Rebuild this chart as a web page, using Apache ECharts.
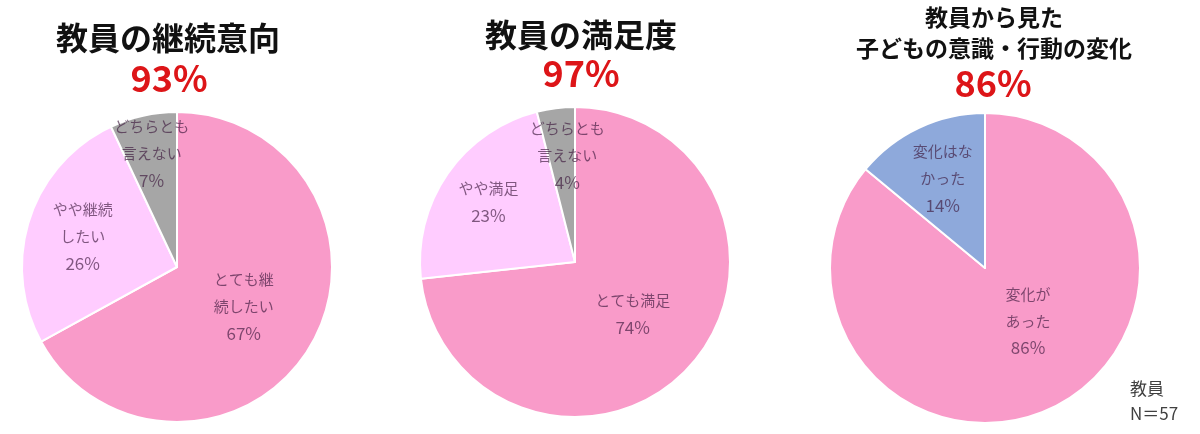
<!DOCTYPE html>
<html>
<head>
<meta charset="utf-8">
<script src="https://cdn.jsdelivr.net/npm/echarts@6/dist/echarts.min.js"></script>
<style>
  html, body { margin: 0; padding: 0; background: #fff; }
  #chart { width: 1200px; height: 434px; }
</style>
</head>
<body>
<div id="chart"></div>
<script>
// survey results (percent), slices run clockwise from 12 o'clock
const continueLabels = ['とても継\n続したい', 'やや継続\nしたい', 'どちらとも\n言えない'];
const continueValues = [67, 26, 7];
const satisfyLabels = ['とても満足', 'やや満足', 'どちらとも\n言えない'];
const satisfyValues = [74, 23, 4];
const changeLabels = ['変化が\nあった', '変化はな\nかった'];
const changeValues = [86, 14];

const panelTitles = ['教員の継続意向', '教員の満足度', '教員から見た\n子どもの意識・行動の変化'];
const headlineRates = ['93%', '97%', '86%'];
const sampleNote = '教員\nN＝57';

const PINK = '#F99BC9';
const LIGHT = '#FFCCFF';
const GRAY = '#A6A6A6';
const BLUE = '#8EA9DB';
const RADIUS = 155;
const FONT = '"Noto Sans CJK JP", "Noto Sans", sans-serif';
const LABEL_COLOR = 'rgba(60,25,60,0.66)';

const chart = echarts.init(document.getElementById('chart'));

// label distance from centre (fraction of radius) and small angle nudge
function makePie(center, labels, values, colors, labelRadius, labelTurn) {
  const total = values.reduce((a, b) => a + b, 0);
  const mids = [];
  let acc = 0;
  values.forEach((v) => {
    mids.push(((acc + v / 2) / total) * 2 * Math.PI);
    acc += v;
  });
  return {
    type: 'pie',
    center: center,
    radius: RADIUS,
    startAngle: 90,
    clockwise: true,
    silent: true,
    animation: false,
    itemStyle: { borderColor: '#fff', borderWidth: 2 },
    label: {
      show: true,
      position: 'inner',
      formatter: (p) => p.name.split('\n').map((s) => '{t|' + s + '}').join('\n') + '\n{p|' + p.value + '%}',
      fontFamily: FONT,
      fontSize: 15,
      lineHeight: 27,
      color: LABEL_COLOR,
      rich: {
        t: { fontFamily: FONT, fontSize: 15, lineHeight: 27, color: LABEL_COLOR },
        p: { fontFamily: FONT, fontSize: 17, lineHeight: 27, color: LABEL_COLOR }
      }
    },
    labelLine: { show: false },
    labelLayout: (params) => {
      const i = params.dataIndex;
      const a = mids[i] + ((labelTurn[i] || 0) * Math.PI) / 180;
      const r = RADIUS * labelRadius[i];
      return {
        x: center[0] + Math.sin(a) * r,
        y: center[1] - Math.cos(a) * r,
        align: 'center',
        verticalAlign: 'middle'
      };
    },
    data: values.map((v, i) => ({
      name: labels[i],
      value: v,
      itemStyle: { color: colors[i] }
    }))
  };
}

function titleText(x, y, text, size, color, lineHeight) {
  return {
    type: 'text',
    x: x,
    y: y,
    silent: true,
    style: {
      text: text,
      fill: color,
      fontFamily: FONT,
      fontWeight: 'bold',
      fontSize: size,
      lineHeight: lineHeight || size,
      align: 'center',
      verticalAlign: 'middle'
    }
  };
}

chart.setOption({
  backgroundColor: '#fff',
  series: [
    makePie([177, 267], continueLabels, continueValues, [PINK, LIGHT, GRAY], [0.5, 0.64, 0.75], [0, 0, 0]),
    makePie([575, 262], satisfyLabels, satisfyValues, [PINK, LIGHT, GRAY], [0.5, 0.68, 0.69], [0, 0, 3]),
    makePie([985, 268], changeLabels, changeValues, [PINK, BLUE], [0.44, 0.64], [-14, 0])
  ],
  graphic: [
    titleText(168, 38, panelTitles[0], 32, '#111'),
    titleText(169, 78, headlineRates[0], 36, '#DD1518'),
    titleText(581, 35, panelTitles[1], 32, '#111'),
    titleText(581, 73, headlineRates[1], 36, '#DD1518'),
    titleText(994, 33, panelTitles[2], 23, '#111', 31),
    titleText(993, 83, headlineRates[2], 36, '#DD1518'),
    {
      type: 'text',
      x: 1130,
      y: 401,
      silent: true,
      style: {
        text: sampleNote,
        fill: '#404040',
        fontFamily: FONT,
        fontSize: 17,
        lineHeight: 25,
        align: 'left',
        verticalAlign: 'middle'
      }
    }
  ]
});
</script>
</body>
</html>
